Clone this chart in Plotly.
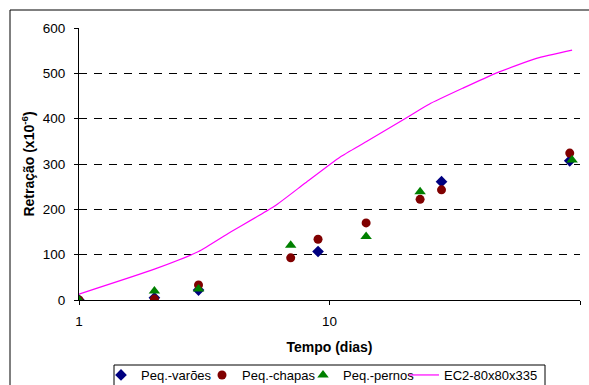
import plotly.graph_objects as go

# Measured shrinkage (x10^-6) vs time (days)
days_varoes = [1, 2, 3, 9, 28, 91]
vals_varoes = [0, 5, 22, 107, 261, 307]

days_chapas = [1, 2, 3, 7, 9, 14, 23, 28, 91]
vals_chapas = [0, 2, 33, 93, 134, 170, 222, 243, 324]

days_pernos = [1, 2, 3, 7, 14, 23, 93]
vals_pernos = [0, 20, 24, 121, 140, 239, 309]

# EC2 prediction curve
days_ec2 = [1, 2, 3, 4, 6, 8, 11, 14, 20, 25, 34, 46, 67, 93]
vals_ec2 = [13, 68, 107, 149, 206, 258, 315, 349, 400, 432, 467, 500, 533, 551]

x_ticks = [1, 10, 100]
y_ticks = [0, 100, 200, 300, 400, 500, 600]

FONT = "Liberation Sans, Arial, sans-serif"

fig = go.Figure()
fig.add_trace(go.Scatter(x=days_varoes, y=vals_varoes, mode="markers", name="Peq.-varões",
                         legendwidth=56,
                         marker=dict(symbol="diamond", size=9, color="#000080")))
fig.add_trace(go.Scatter(x=days_chapas, y=vals_chapas, mode="markers", name="Peq.-chapas",
                         legendwidth=56,
                         marker=dict(symbol="circle", size=9, color="#800000")))
fig.add_trace(go.Scatter(x=days_pernos, y=vals_pernos, mode="markers", name="Peq.-pernos",
                         legendwidth=56,
                         marker=dict(symbol="triangle-up", size=10, color="#008000")))
fig.add_trace(go.Scatter(x=days_ec2, y=vals_ec2, mode="lines", name="EC2-80x80x335",
                         legendwidth=100,
                         line=dict(color="#FF00FF", width=1.2, shape="spline", smoothing=0.5)))

L, R, T, B = 79, 9, 28, 85
W, H = 589, 385
pw, ph = W - L - R, H - T - B


def px_x(p):
    return (p - L) / pw


def px_y(p):
    return (T + ph - p) / ph


fig.update_layout(
    width=W, height=H,
    margin=dict(l=L, r=R, t=T, b=B, autoexpand=False),
    paper_bgcolor="white", plot_bgcolor="white",
    font=dict(family=FONT, size=13.5, color="black"),
    showlegend=True,
    legend=dict(orientation="h", x=px_x(101), xanchor="left",
                y=px_y(360), yanchor="top",
                borderwidth=0, bgcolor="rgba(0,0,0,0)",
                font=dict(size=13), itemwidth=30, tracegroupgap=0),
    xaxis=dict(type="log", range=[0, 2], tickvals=x_ticks, ticktext=[str(v) for v in x_ticks],
               showgrid=False, showline=True, linecolor="black", linewidth=1,
               ticks="outside", ticklen=4, tickcolor="black", zeroline=False, automargin=False,
               ticklabelstandoff=5,
               title=dict(text="<b>Tempo (dias)</b>", font=dict(size=14), standoff=13)),
    yaxis=dict(range=[0, 600], tickvals=y_ticks, showgrid=True, gridcolor="#000000",
               gridwidth=1, griddash="8px,7px", showline=True, linecolor="black", linewidth=1,
               ticks="outside", ticklen=4, tickcolor="black", zeroline=False, automargin=False,
               ticklabelstandoff=6,
               title=dict(text="<b>Retração (x10<sup>-6</sup>)</b>", font=dict(size=14), standoff=4)),
    shapes=[
        dict(type="rect", xref="paper", yref="paper",
             x0=px_x(10), x1=px_x(W + 20), y0=px_y(H + 20), y1=px_y(10),
             line=dict(color="black", width=1), layer="below"),
        dict(type="rect", xref="paper", yref="paper",
             x0=px_x(114), x1=px_x(545), y0=px_y(H + 20), y1=px_y(365),
             line=dict(color="black", width=1), fillcolor="white", layer="below"),
    ],
)

fig.write_html("out.html", config={"displayModeBar": False},
               post_script="document.body.style.margin='0';document.body.style.overflow='hidden';")
